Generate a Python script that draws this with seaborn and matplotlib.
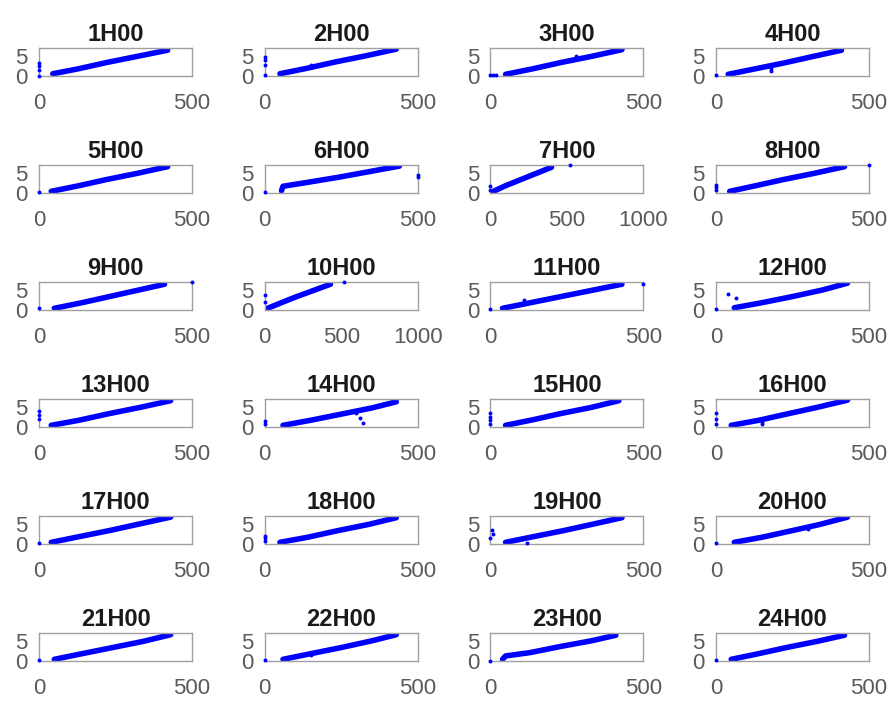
import matplotlib
matplotlib.use("Agg")
import matplotlib.pyplot as plt
import seaborn as sns

# panel titles and x-axis upper limit of each panel
titles = ["%dH00" % h for h in range(1, 25)]
x_max = [500, 500, 500, 500,
         500, 500, 1000, 500,
         500, 1000, 500, 500,
         500, 500, 500, 500,
         500, 500, 500, 500,
         500, 500, 500, 500]

# main band of points
trend_x = [
    [45, 130, 220, 320, 420],
    [50, 140, 230, 330, 430],
    [50, 140, 230, 330, 430],
    [40, 130, 220, 310, 410],
    [40, 130, 220, 320, 420],
    [55, 60, 140, 240, 340, 440],
    [20, 100, 200, 300, 400],
    [45, 130, 220, 320, 420],
    [50, 140, 230, 320, 410],
    [10, 100, 200, 300, 430],
    [40, 140, 240, 340, 430],
    [60, 150, 250, 350, 430],
    [40, 130, 230, 330, 430],
    [60, 150, 250, 350, 430],
    [50, 140, 230, 330, 420],
    [50, 140, 230, 330, 430],
    [40, 130, 230, 330, 430],
    [50, 140, 240, 340, 430],
    [50, 140, 240, 340, 430],
    [60, 150, 250, 340, 430],
    [50, 140, 240, 340, 430],
    [60, 150, 250, 350, 430],
    [40, 50, 130, 230, 330, 410],
    [50, 130, 230, 330, 420],
]
trend_y = [
    [0.4, 1.3, 2.4, 3.5, 4.6],
    [0.4, 1.4, 2.5, 3.6, 4.8],
    [0.3, 1.3, 2.4, 3.5, 4.7],
    [0.3, 1.3, 2.3, 3.4, 4.6],
    [0.3, 1.3, 2.4, 3.5, 4.7],
    [0.4, 1.2, 1.9, 2.8, 3.8, 4.8],
    [0.3, 1.3, 2.4, 3.5, 4.6],
    [0.3, 1.3, 2.4, 3.5, 4.7],
    [0.3, 1.3, 2.4, 3.5, 4.6],
    [0.2, 1.2, 2.3, 3.3, 4.6],
    [0.3, 1.4, 2.5, 3.6, 4.6],
    [0.4, 1.3, 2.4, 3.6, 4.8],
    [0.3, 1.2, 2.4, 3.5, 4.7],
    [0.3, 1.2, 2.3, 3.4, 4.5],
    [0.3, 1.3, 2.4, 3.5, 4.7],
    [0.3, 1.2, 2.3, 3.5, 4.8],
    [0.3, 1.3, 2.4, 3.6, 4.8],
    [0.3, 1.2, 2.4, 3.5, 4.7],
    [0.3, 1.3, 2.4, 3.6, 4.7],
    [0.3, 1.2, 2.4, 3.5, 4.8],
    [0.3, 1.3, 2.4, 3.5, 4.7],
    [0.3, 1.3, 2.4, 3.6, 4.7],
    [0.3, 0.9, 1.5, 2.6, 3.6, 4.6],
    [0.3, 1.2, 2.4, 3.5, 4.6],
]

# stray points off the band
out_x = [
    [0, 0, 0, 0],
    [0, 0, 0, 0, 150],
    [0, 10, 20, 280],
    [0, 180, 180],
    [0],
    [0, 500, 500],
    [0, 0, 520],
    [0, 0, 0, 500],
    [0, 500],
    [0, 0, 520],
    [0, 500, 110],
    [0, 41, 65],
    [0, 0, 0],
    [0, 0, 300, 310, 320],
    [0, 0, 0, 0],
    [0, 0, 0, 150, 150],
    [0],
    [0, 0, 0],
    [0, 5, 10, 120],
    [0, 300],
    [0],
    [0, 150],
    [0],
    [0],
]
out_y = [
    [0.0, 1.1, 1.7, 2.3],
    [0.1, 2.0, 2.8, 3.4, 2.0],
    [0.1, 0.1, 0.1, 3.6],
    [0.1, 0.9, 1.3],
    [0.1],
    [0.1, 2.8, 3.3],
    [0.6, 1.3, 5.0],
    [0.5, 1.0, 1.5, 5.0],
    [0.3, 5.0],
    [1.5, 2.7, 5.0],
    [0.2, 4.7, 1.7],
    [0.2, 2.9, 2.1],
    [1.5, 2.2, 2.8],
    [0.5, 1.0, 2.5, 1.6, 0.8],
    [0.5, 1.2, 1.8, 2.5],
    [0.5, 1.5, 2.5, 0.5, 0.9],
    [0.1],
    [0.5, 1.0, 1.5],
    [1.0, 2.5, 1.8, 0.1],
    [0.1, 2.6],
    [0.1],
    [0.1, 1.0],
    [0.0],
    [0.1],
]

sns.set_style("white")
plt.rcParams["font.family"] = ["Liberation Sans", "DejaVu Sans"]

fig, axes = plt.subplots(6, 4, figsize=(8.95, 7.04), dpi=100)
fig.subplots_adjust(left=39 / 895, right=869 / 895, top=1 - 48 / 704,
                    bottom=1 - 661 / 704, wspace=72.5 / 153, hspace=89 / 28)

blue = "#0000ff"
for i, ax in enumerate(axes.flat):
    sns.lineplot(x=trend_x[i], y=trend_y[i], ax=ax, color=blue,
                 linewidth=4, estimator=None, sort=False)
    sns.scatterplot(x=out_x[i], y=out_y[i], ax=ax, color=blue, s=8,
                    linewidth=0, clip_on=False, zorder=3)
    ax.set_xlim(0, x_max[i])
    ax.set_ylim(0, 5)
    if x_max[i] == 1000:
        ax.set_xticks([0, 500, 1000])
    else:
        ax.set_xticks([0, 500])
    ax.set_yticks([0, 5])
    ax.tick_params(axis="both", direction="in", length=2, width=0.6,
                   color="#999999", labelcolor="#5a5a5a", labelsize=16)
    ax.tick_params(axis="x", pad=12)
    ax.tick_params(axis="y", pad=8)
    ax.get_yticklabels()[1].set_va("top")
    for s in ax.spines.values():
        s.set_visible(True)
        s.set_color("#a0a0a0")
        s.set_linewidth(1.0)
    ax.set_title(titles[i], fontsize=17, fontweight="bold", color="#1a1a1a",
                 pad=5)

fig.savefig("out.png", dpi=100)
